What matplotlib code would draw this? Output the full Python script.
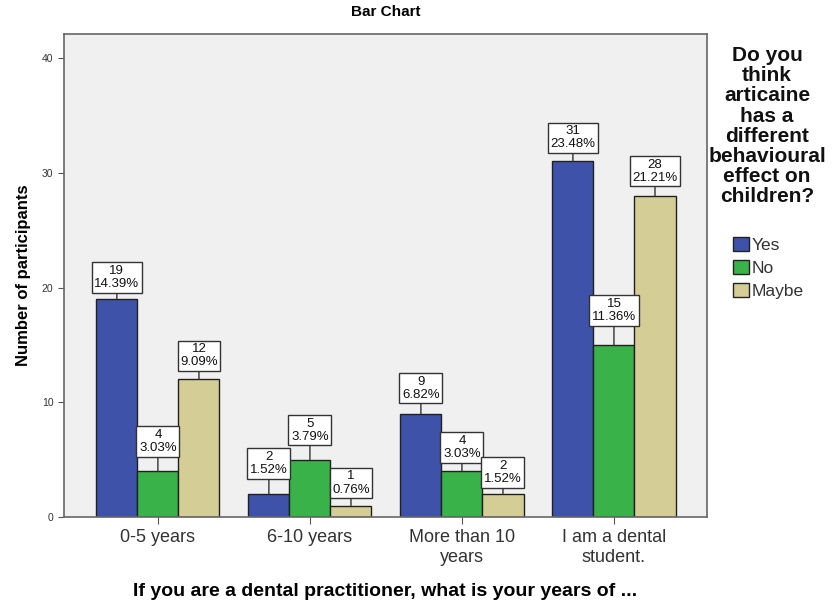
import numpy as np
import matplotlib.pyplot as plt
from matplotlib.patches import Patch

plt.rcParams['font.family'] = ['Liberation Sans', 'DejaVu Sans']

# Data
categories = ['0-5 years', '6-10 years', 'More than 10\nyears', 'I am a dental\nstudent.']
series = ['Yes', 'No', 'Maybe']
counts = {
    'Yes': [19, 2, 9, 31],
    'No': [4, 5, 4, 15],
    'Maybe': [12, 1, 2, 28],
}
percents = {
    'Yes': ['14.39%', '1.52%', '6.82%', '23.48%'],
    'No': ['3.03%', '3.79%', '3.03%', '11.36%'],
    'Maybe': ['9.09%', '0.76%', '1.52%', '21.21%'],
}
colors = {'Yes': '#3D52A8', 'No': '#3AB24A', 'Maybe': '#D5CD96'}
# gap (pixels) between bar top and its label box
gaps = {
    'Yes': [7, 16, 11, 9],
    'No': [15, 15, 9, 20],
    'Maybe': [9, 8, 7, 10],
}

fig = plt.figure(figsize=(8.34, 6.07), dpi=100)
ax = fig.add_axes([0.0767, 0.1483, 0.771, 0.7957])
ax.set_facecolor('#F0F0F0')

x = np.arange(len(categories))
w = 0.27
for i, s in enumerate(series):
    xs = x + (i - 1) * w
    ax.bar(xs, counts[s], width=w, color=colors[s], edgecolor='#202020', linewidth=1.0, zorder=2)
    for j in range(len(categories)):
        ax.annotate(f'{counts[s][j]}\n{percents[s][j]}', xy=(xs[j], counts[s][j]),
                    xytext=(0, (gaps[s][j] + 2) * 0.72), textcoords='offset points',
                    ha='center', va='bottom', fontsize=9.5, linespacing=1.12, color='#111111',
                    bbox=dict(boxstyle='square,pad=0.2', fc='white', ec='#333333', lw=1),
                    arrowprops=dict(arrowstyle='-', color='#333333', lw=1, shrinkA=0, shrinkB=0),
                    zorder=3)

ax.set_xlim(-0.618, 3.612)
ax.set_ylim(0, 42.1)
ax.set_yticks([0, 10, 20, 30, 40])
ax.tick_params(axis='y', labelsize=7.5, length=4, color='#555555', labelcolor='#333333')
ax.tick_params(axis='x', labelsize=13, length=5, color='#555555', labelcolor='#333333')
ax.set_xticks(x)
ax.set_xticklabels(categories, linespacing=1.25)
for sp in ax.spines.values():
    sp.set_color('#666666')
    sp.set_linewidth(1.2)

ax.set_title('Bar Chart', fontsize=11, fontweight='bold', pad=13)
ax.set_ylabel('Number of participants', fontsize=12, fontweight='bold', labelpad=8)
ax.set_xlabel('If you are a dental practitioner, what is your years of ...', fontsize=14,
              fontweight='bold', labelpad=12)

fig.text(767 / 834, 1 - 46 / 607,
         'Do you\nthink\narticaine\nhas a\ndifferent\nbehavioural\neffect on\nchildren?',
         ha='center', va='top', multialignment='center', fontsize=15, fontweight='bold',
         linespacing=1.08, color='#111111')

handles = [Patch(facecolor=colors[s], edgecolor='#222222', label=s) for s in series]
leg = fig.legend(handles=handles, loc='upper left', bbox_to_anchor=(733 / 834, 1 - 237 / 607),
                 fontsize=12.5, frameon=False, handlelength=0.9, handleheight=0.9,
                 handletextpad=0.15, labelspacing=0.38, borderaxespad=0, borderpad=0)
for t in leg.get_texts():
    t.set_color('#333333')

fig.savefig('out.png', dpi=100)
